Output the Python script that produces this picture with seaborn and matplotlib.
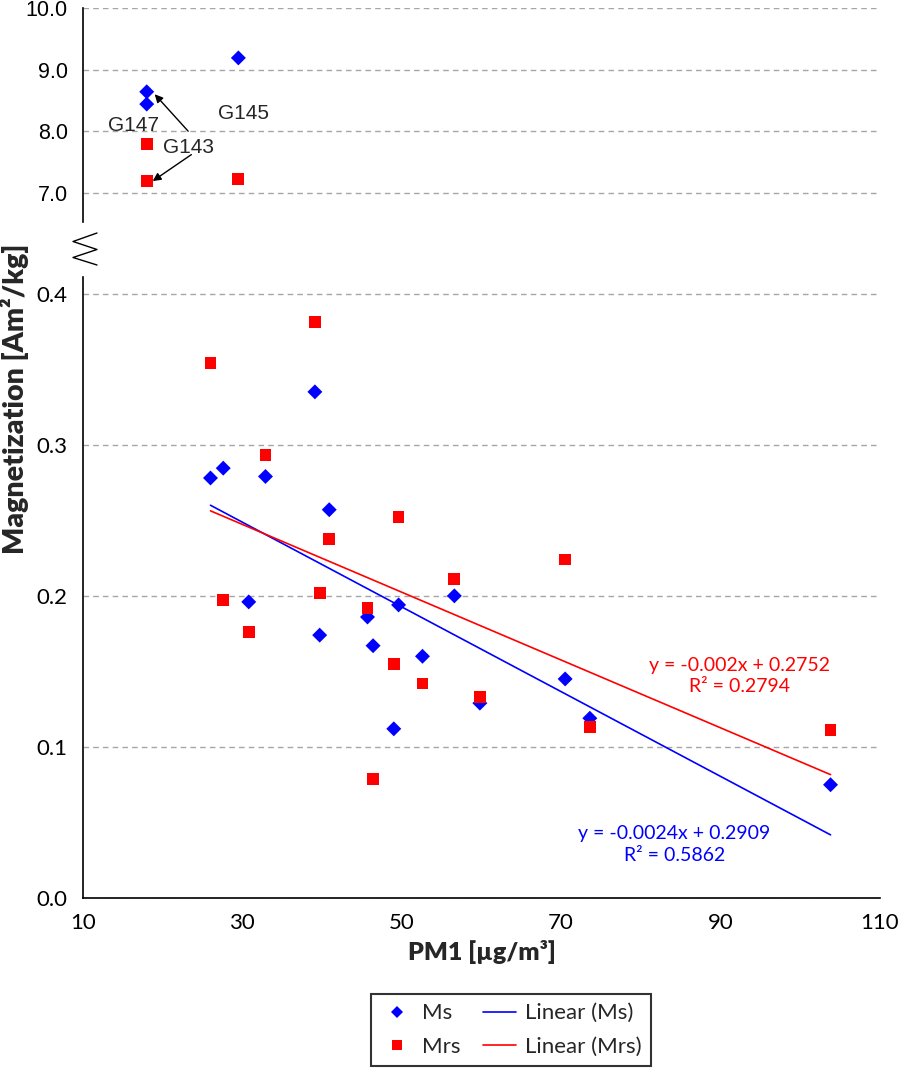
import numpy as np
import pandas as pd
import matplotlib
matplotlib.use('Agg')
import matplotlib.pyplot as plt
from matplotlib.lines import Line2D
import matplotlib.ticker as mticker
import seaborn as sns

# ─── DATA ─────────────────────────────────────────────
# regular samples (lower panel)
pm1 = [26.0, 27.6, 30.8, 32.9, 39.1, 39.7, 40.9, 45.7, 46.4,
       49.0, 49.6, 52.6, 56.6, 59.8, 70.5, 73.6, 103.8]
ms = [0.278, 0.2845, 0.196, 0.279, 0.335, 0.174, 0.257, 0.186, 0.167,
      0.112, 0.194, 0.160, 0.200, 0.129, 0.145, 0.119, 0.075]
mrs = [0.354, 0.1975, 0.176, 0.293, 0.381, 0.202, 0.2375, 0.192, 0.079,
       0.155, 0.252, 0.142, 0.211, 0.133, 0.224, 0.113, 0.111]

# outlier samples (upper panel)
out_names = ['G143', 'G147', 'G145']
out_pm1 = [18.0, 18.0, 29.5]
out_ms = [8.64, 8.44, 9.19]
out_mrs = [7.19, 7.79, 7.22]

x_major = [10, 30, 50, 70, 90, 110]
x_minor = [20, 40, 60, 80, 100]
y_bot_ticks = [0.0, 0.1, 0.2, 0.3, 0.4]
y_top_ticks = [7.0, 8.0, 9.0, 10.0]

eq_ms = 'y = -0.0024x + 0.2909\nR\u00b2 = 0.5862'
eq_mrs = 'y = -0.002x + 0.2752\nR\u00b2 = 0.2794'

BLUE = '#0000FF'
RED = '#FF0000'
GRID = '#A6A6A6'

# ─── STYLE ────────────────────────────────────────────
sns.set_style('white')
plt.rcParams['font.family'] = ['Lato', 'DejaVu Sans']
plt.rcParams.update({
    'axes.linewidth': 1.2,
    'xtick.direction': 'out',
    'ytick.direction': 'out',
    'xtick.major.size': 6, 'xtick.minor.size': 6,
    'ytick.major.size': 6,
    'xtick.major.width': 1.0, 'xtick.minor.width': 1.0,
    'ytick.major.width': 1.0,
})
CAL = ['Lato', 'DejaVu Sans']
ARIAL = ['Liberation Sans', 'DejaVu Sans']

df = pd.DataFrame({'pm1': pm1, 'Ms': ms, 'Mrs': mrs})
df_out = pd.DataFrame({'name': out_names, 'pm1': out_pm1,
                       'Ms': out_ms, 'Mrs': out_mrs})

fig = plt.figure(figsize=(8.98, 10.70), dpi=100)
ax_top = fig.add_axes([0.0924, 0.7925, 0.8875, 0.2000])
ax_bot = fig.add_axes([0.0924, 0.1607, 0.8875, 0.5804])

# ─── LOWER PANEL ──────────────────────────────────────
sns.scatterplot(data=df, x='pm1', y='Ms', marker='D', s=58, color=BLUE,
                edgecolor='none', linewidth=0, ax=ax_bot, zorder=3)
sns.scatterplot(data=df, x='pm1', y='Mrs', marker='s', s=72, color=RED,
                edgecolor='none', linewidth=0, ax=ax_bot, zorder=4)
sns.regplot(data=df, x='pm1', y='Ms', scatter=False, ci=None, truncate=True,
            color=BLUE, line_kws={'lw': 1.2, 'zorder': 5}, ax=ax_bot)
sns.regplot(data=df, x='pm1', y='Mrs', scatter=False, ci=None, truncate=True,
            color=RED, line_kws={'lw': 1.2, 'zorder': 5}, ax=ax_bot)

ax_bot.set_xlim(10, 110)
ax_bot.set_ylim(0, 0.411)
ax_bot.set_xticks(x_major)
ax_bot.set_xticks(x_minor, minor=True)
ax_bot.set_yticks(y_bot_ticks)
ax_bot.yaxis.set_major_formatter(mticker.FormatStrFormatter('%.1f'))
ax_bot.tick_params(axis='both', which='both', labelsize=16, colors='black',
                   pad=5)
for lab in ax_bot.get_xticklabels() + ax_bot.get_yticklabels():
    lab.set_family(CAL)
ax_bot.yaxis.grid(True, linestyle=(0, (4, 3)), color=GRID, lw=1.0)
ax_bot.set_axisbelow(True)
for side in ['top', 'right']:
    ax_bot.spines[side].set_visible(False)
for side in ['left', 'bottom']:
    ax_bot.spines[side].set_color('black')
ax_bot.set_xlabel('PM1 [\u00b5g/m\u00b3]', fontsize=18, fontweight='heavy',
                  family=CAL, labelpad=5)
ax_bot.set_ylabel('')

ax_bot.text(92.4, 0.147, eq_mrs, color=RED, fontsize=14, family=CAL,
            ha='center', va='center', linespacing=1.3)
ax_bot.text(84.2, 0.0355, eq_ms, color=BLUE, fontsize=14, family=CAL,
            ha='center', va='center', linespacing=1.3)

# ─── UPPER PANEL ──────────────────────────────────────
sns.scatterplot(data=df_out, x='pm1', y='Ms', marker='D', s=58, color=BLUE,
                edgecolor='none', linewidth=0, ax=ax_top, zorder=3)
sns.scatterplot(data=df_out, x='pm1', y='Mrs', marker='s', s=72, color=RED,
                edgecolor='none', linewidth=0, ax=ax_top, zorder=4)
ax_top.set_xlim(10, 110)
ax_top.set_ylim(6.525, 10.0)
ax_top.set_yticks(y_top_ticks)
ax_top.yaxis.set_major_formatter(mticker.FormatStrFormatter('%.1f'))
ax_top.set_xticks([])
ax_top.tick_params(axis='y', labelsize=15.5, colors='black', pad=5)
for lab in ax_top.get_yticklabels():
    lab.set_family(ARIAL)
ax_top.yaxis.grid(True, linestyle=(0, (4, 3)), color=GRID, lw=1.0)
ax_top.set_axisbelow(True)
for side in ['top', 'right', 'bottom']:
    ax_top.spines[side].set_visible(False)
ax_top.spines['left'].set_color('black')
ax_top.set_xlabel('')
ax_top.set_ylabel('')

# sample labels and arrows
ax_top.text(16.3, 8.10, 'G147', fontsize=15, family=ARIAL, ha='center', va='center')
ax_top.text(23.2, 7.73, 'G143', fontsize=15, family=ARIAL, ha='center', va='center')
ax_top.text(30.1, 8.28, 'G145', fontsize=15, family=ARIAL, ha='center', va='center')
arrow = dict(arrowstyle='-|>', color='black', lw=1.0, mutation_scale=12,
             shrinkA=0, shrinkB=0)
ax_top.annotate('', xy=(19.0, 8.60), xytext=(23.2, 8.0), arrowprops=arrow)
ax_top.annotate('', xy=(18.75, 7.19), xytext=(23.6, 7.62), arrowprops=arrow)

# ─── AXIS BREAK + SHARED Y LABEL ──────────────────────
zx = np.array([97, 73, 97, 73, 97]) / 898
zy = 1 - np.array([233, 241.5, 249.5, 257.5, 265]) / 1070
fig.add_artist(Line2D(zx, zy, color='black', lw=1.0, transform=fig.transFigure))

fig.text(0.0156, 1 - 399 / 1070, 'Magnetization [Am\u00b2/kg]', rotation=90,
         fontsize=20.5, fontweight='heavy', family=CAL, ha='center', va='center')

# ─── LEGEND ───────────────────────────────────────────
handles = [
    Line2D([], [], marker='D', ls='none', color=BLUE, markersize=6.5, markeredgewidth=0),
    Line2D([], [], marker='s', ls='none', color=RED, markersize=6.5, markeredgewidth=0),
    Line2D([], [], color=BLUE, lw=1.2),
    Line2D([], [], color=RED, lw=1.2),
]
labels = ['Ms', 'Mrs', 'Linear (Ms)', 'Linear (Mrs)']
leg = fig.legend(handles, labels, ncol=2, loc='center',
                 bbox_to_anchor=(0.569, 0.0374), frameon=True, fancybox=False,
                 edgecolor='black', prop={'family': CAL, 'size': 16},
                 handlelength=1.5, handletextpad=0.4, columnspacing=1.0,
                 labelspacing=0.6, borderpad=0.4)
leg.get_frame().set_linewidth(1.5)

fig.savefig('out.png', dpi=100)
